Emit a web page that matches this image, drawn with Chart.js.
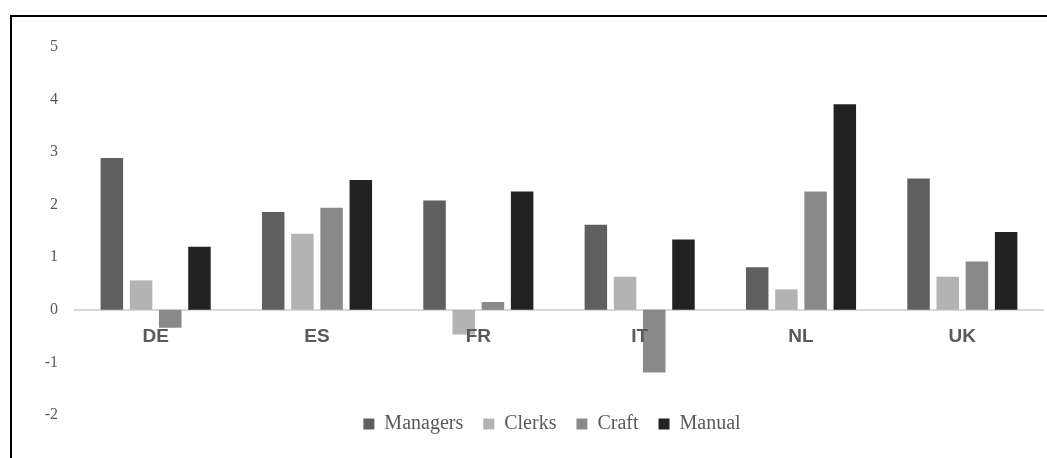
<!DOCTYPE html>
<html>
<head>
<meta charset="utf-8">
<title>Occupational groups by country</title>
<script src="https://cdn.jsdelivr.net/npm/chart.js@4.4.0/dist/chart.umd.min.js"></script>
<style>
  html, body { margin: 0; padding: 0; background: #fff; }
  #frame {
    position: absolute; left: 10px; top: 15px;
    width: 1037px; height: 443px; box-sizing: border-box;
    border-top: 2px solid #000; border-left: 2px solid #000;
  }
  #chart { display: block; }
</style>
</head>
<body>
<div id="frame"><canvas id="chart" width="1035" height="441"></canvas></div>
<script>
// values
const countries = ['DE', 'ES', 'FR', 'IT', 'NL', 'UK'];
const managers = [2.89, 1.86, 2.08, 1.62, 0.81, 2.50];
const clerks   = [0.56, 1.45, -0.47, 0.63, 0.39, 0.63];
const craft    = [-0.34, 1.94, 0.15, -1.19, 2.25, 0.92];
const manual   = [1.20, 2.47, 2.25, 1.34, 3.91, 1.48];
const yTicks   = [-2, -1, 0, 1, 2, 3, 4, 5];

const series = [
    { label: 'Managers', data: managers, color: '#5f5f5f' },
    { label: 'Clerks',   data: clerks,   color: '#b3b3b3' },
    { label: 'Craft',    data: craft,    color: '#898989' },
    { label: 'Manual',   data: manual,   color: '#222222' },
];

const TEXT = '#595959';
const LEGEND_SHIFT_Y = 21;
const LEGEND_SHIFT_X = 7;

// legend sits a bit higher than Chart.js would put it (overlaps the bottom band like Excel)
const legendNudge = {
    id: 'legendNudge',
    afterLayout(chart) {
        const lg = chart.legend;
        if (!lg) return;
        lg.top -= LEGEND_SHIFT_Y;
        lg.bottom -= LEGEND_SHIFT_Y;
        lg.left -= LEGEND_SHIFT_X;
        lg.right -= LEGEND_SHIFT_X;
    }
};

const ctx = document.getElementById('chart').getContext('2d');
new Chart(ctx, {
    type: 'bar',
    data: {
        labels: countries,
        datasets: series.map(s => ({
            label: s.label,
            data: s.data,
            backgroundColor: s.color,
            borderWidth: 0,
            categoryPercentage: 0.724,
            barPercentage: 0.77,
        })),
    },
    options: {
        responsive: false,
        devicePixelRatio: 1,
        animation: false,
        layout: { padding: { top: 30, right: 4, bottom: 0, left: 0 } },
        scales: {
            x: {
                position: { y: 0 },
                grid: { display: false, drawTicks: false },
                border: { display: true, color: '#d9d9d9', width: 2 },
                ticks: {
                    z: 1, // category names are painted over the bars
                    color: TEXT,
                    padding: 16,
                    font: { family: '"Liberation Sans", Arial, sans-serif', size: 19, weight: 'bold' },
                },
                afterFit(scale) { scale.height = 0; },
            },
            y: {
                min: -2,
                max: 5,
                grid: { display: false, drawTicks: false },
                border: { display: false },
                afterBuildTicks(scale) { scale.ticks = yTicks.map(v => ({ value: v })); },
                ticks: {
                    color: TEXT,
                    padding: 17,
                    font: { family: '"Liberation Serif", "Times New Roman", serif', size: 16 },
                },
                afterFit(scale) { scale.width = 63; },
            },
        },
        plugins: {
            legend: {
                position: 'bottom',
                fullSize: false,
                maxHeight: 43,
                labels: {
                    color: TEXT,
                    boxWidth: 11,
                    boxHeight: 11,
                    padding: 20,
                    font: { family: '"Liberation Serif", "Times New Roman", serif', size: 20 },
                },
            },
            tooltip: { enabled: false },
        },
    },
    plugins: [legendNudge],
});
</script>
</body>
</html>
